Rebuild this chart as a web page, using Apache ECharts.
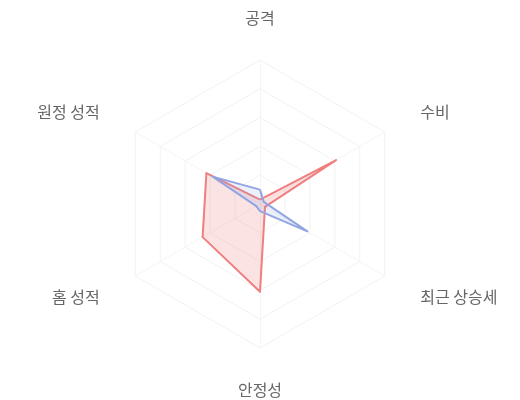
<!DOCTYPE html>
<html>
<head>
<meta charset="utf-8">
<script src="https://cdn.jsdelivr.net/npm/echarts@6/dist/echarts.min.js"></script>
<style>
html,body{margin:0;padding:0;background:#fff;}
#chart{width:520px;height:400px;}
</style>
</head>
<body>
<div id="chart"></div>
<script>
// natural (clockwise from top) order
const categories = ['공격', '수비', '최근 상승세', '안정성', '홈 성적', '원정 성적'];
const maxValues = [100, 100, 100, 100, 100, 100];
const seriesRed = [3, 61, 4, 61, 46, 43];
const seriesBlue = [10, 3, 38, 5, 3, 38];

// ECharts lays indicators counter-clockwise; reorder so display goes clockwise
const order = [0, 5, 4, 3, 2, 1];
const indicator = order.map(i => ({ name: categories[i], max: maxValues[i] }));
const pick = arr => order.map(i => arr[i]);

const chart = echarts.init(document.getElementById('chart'));
chart.setOption({
  animation: false,
  radar: {
    center: ['50%', 204],
    radius: 144,
    splitNumber: 5,
    indicator: indicator,
    axisName: { color: '#666', fontSize: 16, lineHeight: 2, fontFamily: 'Noto Sans CJK KR' },
    nameGap: 41,
    splitLine: { lineStyle: { color: '#f2f2f2', width: 1 } },
    splitArea: { show: false },
    axisLine: { lineStyle: { color: '#f4f4f4' } }
  },
  series: [{
    type: 'radar',
    symbol: 'none',
    data: [
      {
        value: pick(seriesRed),
        lineStyle: { color: '#f08080', width: 2 },
        areaStyle: { color: 'rgba(240,110,110,0.28)' },
        itemStyle: { color: '#f08080' }
      },
      {
        value: pick(seriesBlue),
        lineStyle: { color: '#93a6e3', width: 2 },
        areaStyle: { color: 'rgba(130,155,230,0.22)' },
        itemStyle: { color: '#93a6e3' }
      }
    ]
  }]
});
</script>
</body>
</html>
